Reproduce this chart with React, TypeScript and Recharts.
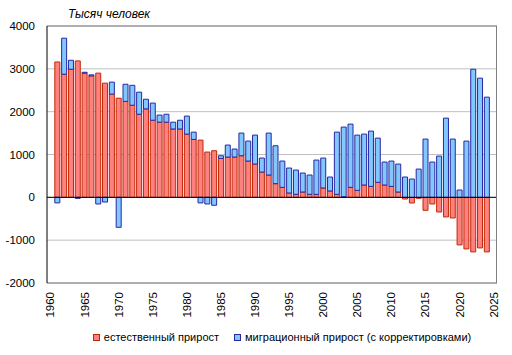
import { BarChart, Bar, XAxis, YAxis, CartesianGrid, ReferenceLine, Legend } from 'recharts';

// годы с данными 1961–2024, по краям пустые 1960 и 2025
const YEARS = [
  1961, 1962, 1963, 1964, 1965, 1966, 1967, 1968, 1969, 1970,
  1971, 1972, 1973, 1974, 1975, 1976, 1977, 1978, 1979, 1980,
  1981, 1982, 1983, 1984, 1985, 1986, 1987, 1988, 1989, 1990,
  1991, 1992, 1993, 1994, 1995, 1996, 1997, 1998, 1999, 2000,
  2001, 2002, 2003, 2004, 2005, 2006, 2007, 2008, 2009, 2010,
  2011, 2012, 2013, 2014, 2015, 2016, 2017, 2018, 2019, 2020,
  2021, 2022, 2023, 2024,
];

// естественный прирост, тыс. чел.
const NATURAL = [
  3160, 2875, 2990, 3185, 2900, 2835, 2900, 2665, 2410, 2315,
  2240, 2150, 1940, 2065, 1800, 1755, 1755, 1595, 1595, 1476,
  1352, 1336, 1057, 1088, 909, 940, 940, 971, 847, 777,
  590, 521, 319, 233, 101, 70, 124, 70, 70, 218,
  148, 70, 15, 233, 163, 287, 256, 350, 287, 256,
  124, -39, -132, -23, -303, -155, -342, -458, -482, -1111,
  -1204, -1274, -1181, -1274,
];

// миграционный прирост (с корректировками), тыс. чел.
const MIGRATION = [
  -130, 840, 210, -25, 20, 25, -155, -110, 280, -700,
  400, 465, 515, 225, 400, 165, 185, 160, 205, 420,
  170, -130, -155, -185, 62, 280, 187, 529, 466, 676,
  327, 979, 885, 614, 583, 567, 443, 451, 800, 699,
  326, 1453, 1625, 1476, 1290, 1189, 1290, 1033, 537, 591,
  653, 474, 427, 660, 1360, 824, 963, 1849, 1360, 171,
  1313, 2991, 2782, 2339,
];

const Y_TICKS = [-2000, -1000, 0, 1000, 2000, 3000, 4000];

const FONT = '"Liberation Sans", Arial, sans-serif';

const data = [
  { year: 1960 },
  ...YEARS.map((year, i) => ({ year, natural: NATURAL[i], migration: MIGRATION[i] })),
  { year: 2025 },
];

const YearTick = (props: any) => {
  const { x, y, payload } = props;
  if (payload.value % 5 !== 0) return null;
  return (
    <text
      x={x}
      y={y}
      transform={`rotate(-90 ${x} ${y})`}
      textAnchor="end"
      dominantBaseline="central"
      fontSize={11.5}
      fontFamily={FONT}
      fill="#000"
    >
      {payload.value}
    </text>
  );
};

const renderLegend = () => (
  <div
    style={{
      display: 'flex',
      justifyContent: 'center',
      gap: 15,
      fontFamily: FONT,
      fontSize: 11,
      color: '#000',
      paddingLeft: 67,
      marginTop: 8,
    }}
  >
    {[
      { label: 'естественный прирост', fill: '#FF8080', stroke: '#C02800' },
      { label: 'миграционный прирост (с корректировками)', fill: '#80C8FF', stroke: '#2828A0' },
    ].map((item) => (
      <span key={item.label} style={{ display: 'flex', alignItems: 'center' }}>
        <span
          style={{
            width: 5,
            height: 5,
            background: item.fill,
            border: `1px solid ${item.stroke}`,
            marginRight: 4,
          }}
        />
        {item.label}
      </span>
    ))}
  </div>
);

export default function App() {
  return (
    <div style={{ position: 'absolute', left: 0, top: 0, width: 512, height: 355, background: '#fff' }}>
      <div
        style={{
          position: 'absolute',
          left: 68,
          top: 7,
          fontFamily: FONT,
          fontStyle: 'italic',
          fontSize: 12,
          color: '#000',
        }}
      >
        Тысяч человек
      </div>
      <BarChart
        width={512}
        height={355}
        data={data}
        stackOffset="sign"
        barCategoryGap={1}
        margin={{ top: 26, right: 15, left: 0, bottom: 0 }}
      >
        <CartesianGrid vertical={false} stroke="#C0C0C0" />
        <XAxis
          dataKey="year"
          interval={0}
          height={40}
          tick={<YearTick />}
          tickLine={false}
          tickSize={0}
          tickMargin={9}
          axisLine={{ stroke: '#808080' }}
        />
        <YAxis
          domain={[-2000, 4000]}
          ticks={Y_TICKS}
          width={47}
          tickLine={false}
          tickSize={0}
          tickMargin={12}
          axisLine={{ stroke: '#000' }}
          tick={{ fill: '#000', fontSize: 11.5, fontFamily: FONT }}
        />
        <ReferenceLine y={4000} stroke="#808080" />
        <ReferenceLine y={0} stroke="#000" />
        <Legend verticalAlign="bottom" height={32} content={renderLegend} />
        <Bar dataKey="natural" stackId="a" fill="#FF8080" stroke="#C02800" strokeWidth={1} isAnimationActive={false} />
        <Bar dataKey="migration" stackId="a" fill="#80C8FF" stroke="#2828A0" strokeWidth={1} isAnimationActive={false} />
      </BarChart>
      {/* правая рамка области построения */}
      <div
        style={{
          position: 'absolute',
          left: 496,
          top: 26,
          width: 1,
          height: 257,
          background: '#808080',
          pointerEvents: 'none',
        }}
      />
    </div>
  );
}
